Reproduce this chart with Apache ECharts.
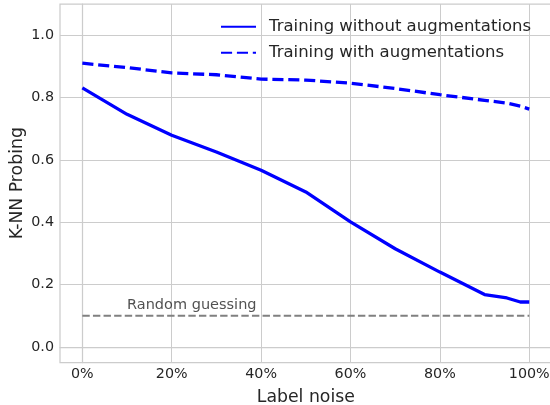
<!DOCTYPE html>
<html>
<head>
<meta charset="utf-8">
<script src="https://cdn.jsdelivr.net/npm/echarts@6/dist/echarts.min.js"></script>
<style>html,body{margin:0;padding:0;background:#fff}#c{width:550px;height:405px}</style>
</head>
<body>
<div id="c"></div>
<script>
// Data
const noiseLevels = [0, 10, 20, 30, 40, 50, 60, 70, 80, 90, 95, 98, 100];
const withoutAug = [0.831, 0.746, 0.679, 0.625, 0.567, 0.497, 0.401, 0.315, 0.240, 0.168, 0.157, 0.144, 0.144];
const withAug    = [0.910, 0.896, 0.879, 0.873, 0.859, 0.856, 0.846, 0.829, 0.809, 0.791, 0.782, 0.772, 0.763];
const randomX = [0, 100];
const randomY = [0.1, 0.1];
const randomLabelPos = [10, 0.133];
const xTicks = [0, 20, 40, 60, 80, 100];
const yTicks = [0, 0.2, 0.4, 0.6, 0.8, 1.0];
const seriesNames = ['Training without augmentations', 'Training with augmentations'];

const txt = '#262626';
const font = 'DejaVu Sans';
const chart = echarts.init(document.getElementById('c'), null, {renderer: 'canvas'});
const zip = (xs, ys) => xs.map((x, i) => [x, ys[i]]);

chart.setOption({
  animation: false,
  backgroundColor: '#ffffff',
  textStyle: {fontFamily: font, color: txt},
  grid: {left: 60, top: 4, width: 491.6, height: 358.5, show: true, borderColor: '#cccccc', borderWidth: 1.25,
         backgroundColor: 'transparent', containLabel: false, outerBoundsMode: 'none'},
  legend: {
    orient: 'vertical', left: 215, top: 11.7,
    data: seriesNames,
    itemWidth: 35, itemHeight: 14, itemGap: 6,
    itemStyle: {opacity: 0, color: 'transparent', borderWidth: 0},
    textStyle: {fontFamily: font, fontSize: 16.5, color: txt, lineHeight: 20, padding: [0, 0, 0, 8]},
    selectedMode: false
  },
  xAxis: {
    type: 'value', min: -5, max: 105,
    name: 'Label noise', nameLocation: 'middle', nameGap: 27,
    nameTextStyle: {fontFamily: font, fontSize: 17.3, color: txt},
    axisLine: {show: true, lineStyle: {color: '#cccccc', width: 1.25}},
    axisTick: {show: false, customValues: xTicks},
    axisLabel: {customValues: xTicks, formatter: v => v + '%', fontFamily: font, fontSize: 14.3, color: txt, margin: 5},
    splitLine: {show: true, lineStyle: {color: '#cccccc', width: 1}}
  },
  yAxis: {
    type: 'value', min: -0.05, max: 1.1,
    name: 'K-NN Probing', nameLocation: 'middle', nameGap: 34, nameRotate: 90, nameMoveOverlap: false,
    nameTextStyle: {fontFamily: font, fontSize: 17.3, color: txt},
    axisLine: {show: true, lineStyle: {color: '#cccccc', width: 1.25}},
    axisTick: {show: false, customValues: yTicks},
    axisLabel: {customValues: yTicks, formatter: v => v.toFixed(1), fontFamily: font, fontSize: 14.3, color: txt, margin: 6},
    splitLine: {show: true, lineStyle: {color: '#cccccc', width: 1}}
  },
  series: [
    {
      name: seriesNames[0], type: 'line', data: zip(noiseLevels, withoutAug),
      symbol: 'none', color: '#0000ff',
      lineStyle: {color: '#0000ff', width: 3.3, type: 'solid'}, z: 5
    },
    {
      name: seriesNames[1], type: 'line', data: zip(noiseLevels, withAug),
      symbol: 'none', color: '#0000ff',
      lineStyle: {color: '#0000ff', width: 3.3, type: [11.1, 4.8]}, z: 5
    },
    {
      name: 'Random', type: 'line', data: zip(randomX, randomY),
      symbol: 'none', color: '#808080',
      lineStyle: {color: '#808080', width: 2, type: [7.4, 3.2]}, z: 4
    },
    {
      name: 'RandomLabel', type: 'scatter', data: [randomLabelPos],
      symbolSize: 0, silent: true,
      label: {show: true, formatter: 'Random guessing', position: 'inside', align: 'left', verticalAlign: 'middle',
              fontFamily: font, fontSize: 14.5, color: txt}
    }
  ]
});
</script>
</body>
</html>
